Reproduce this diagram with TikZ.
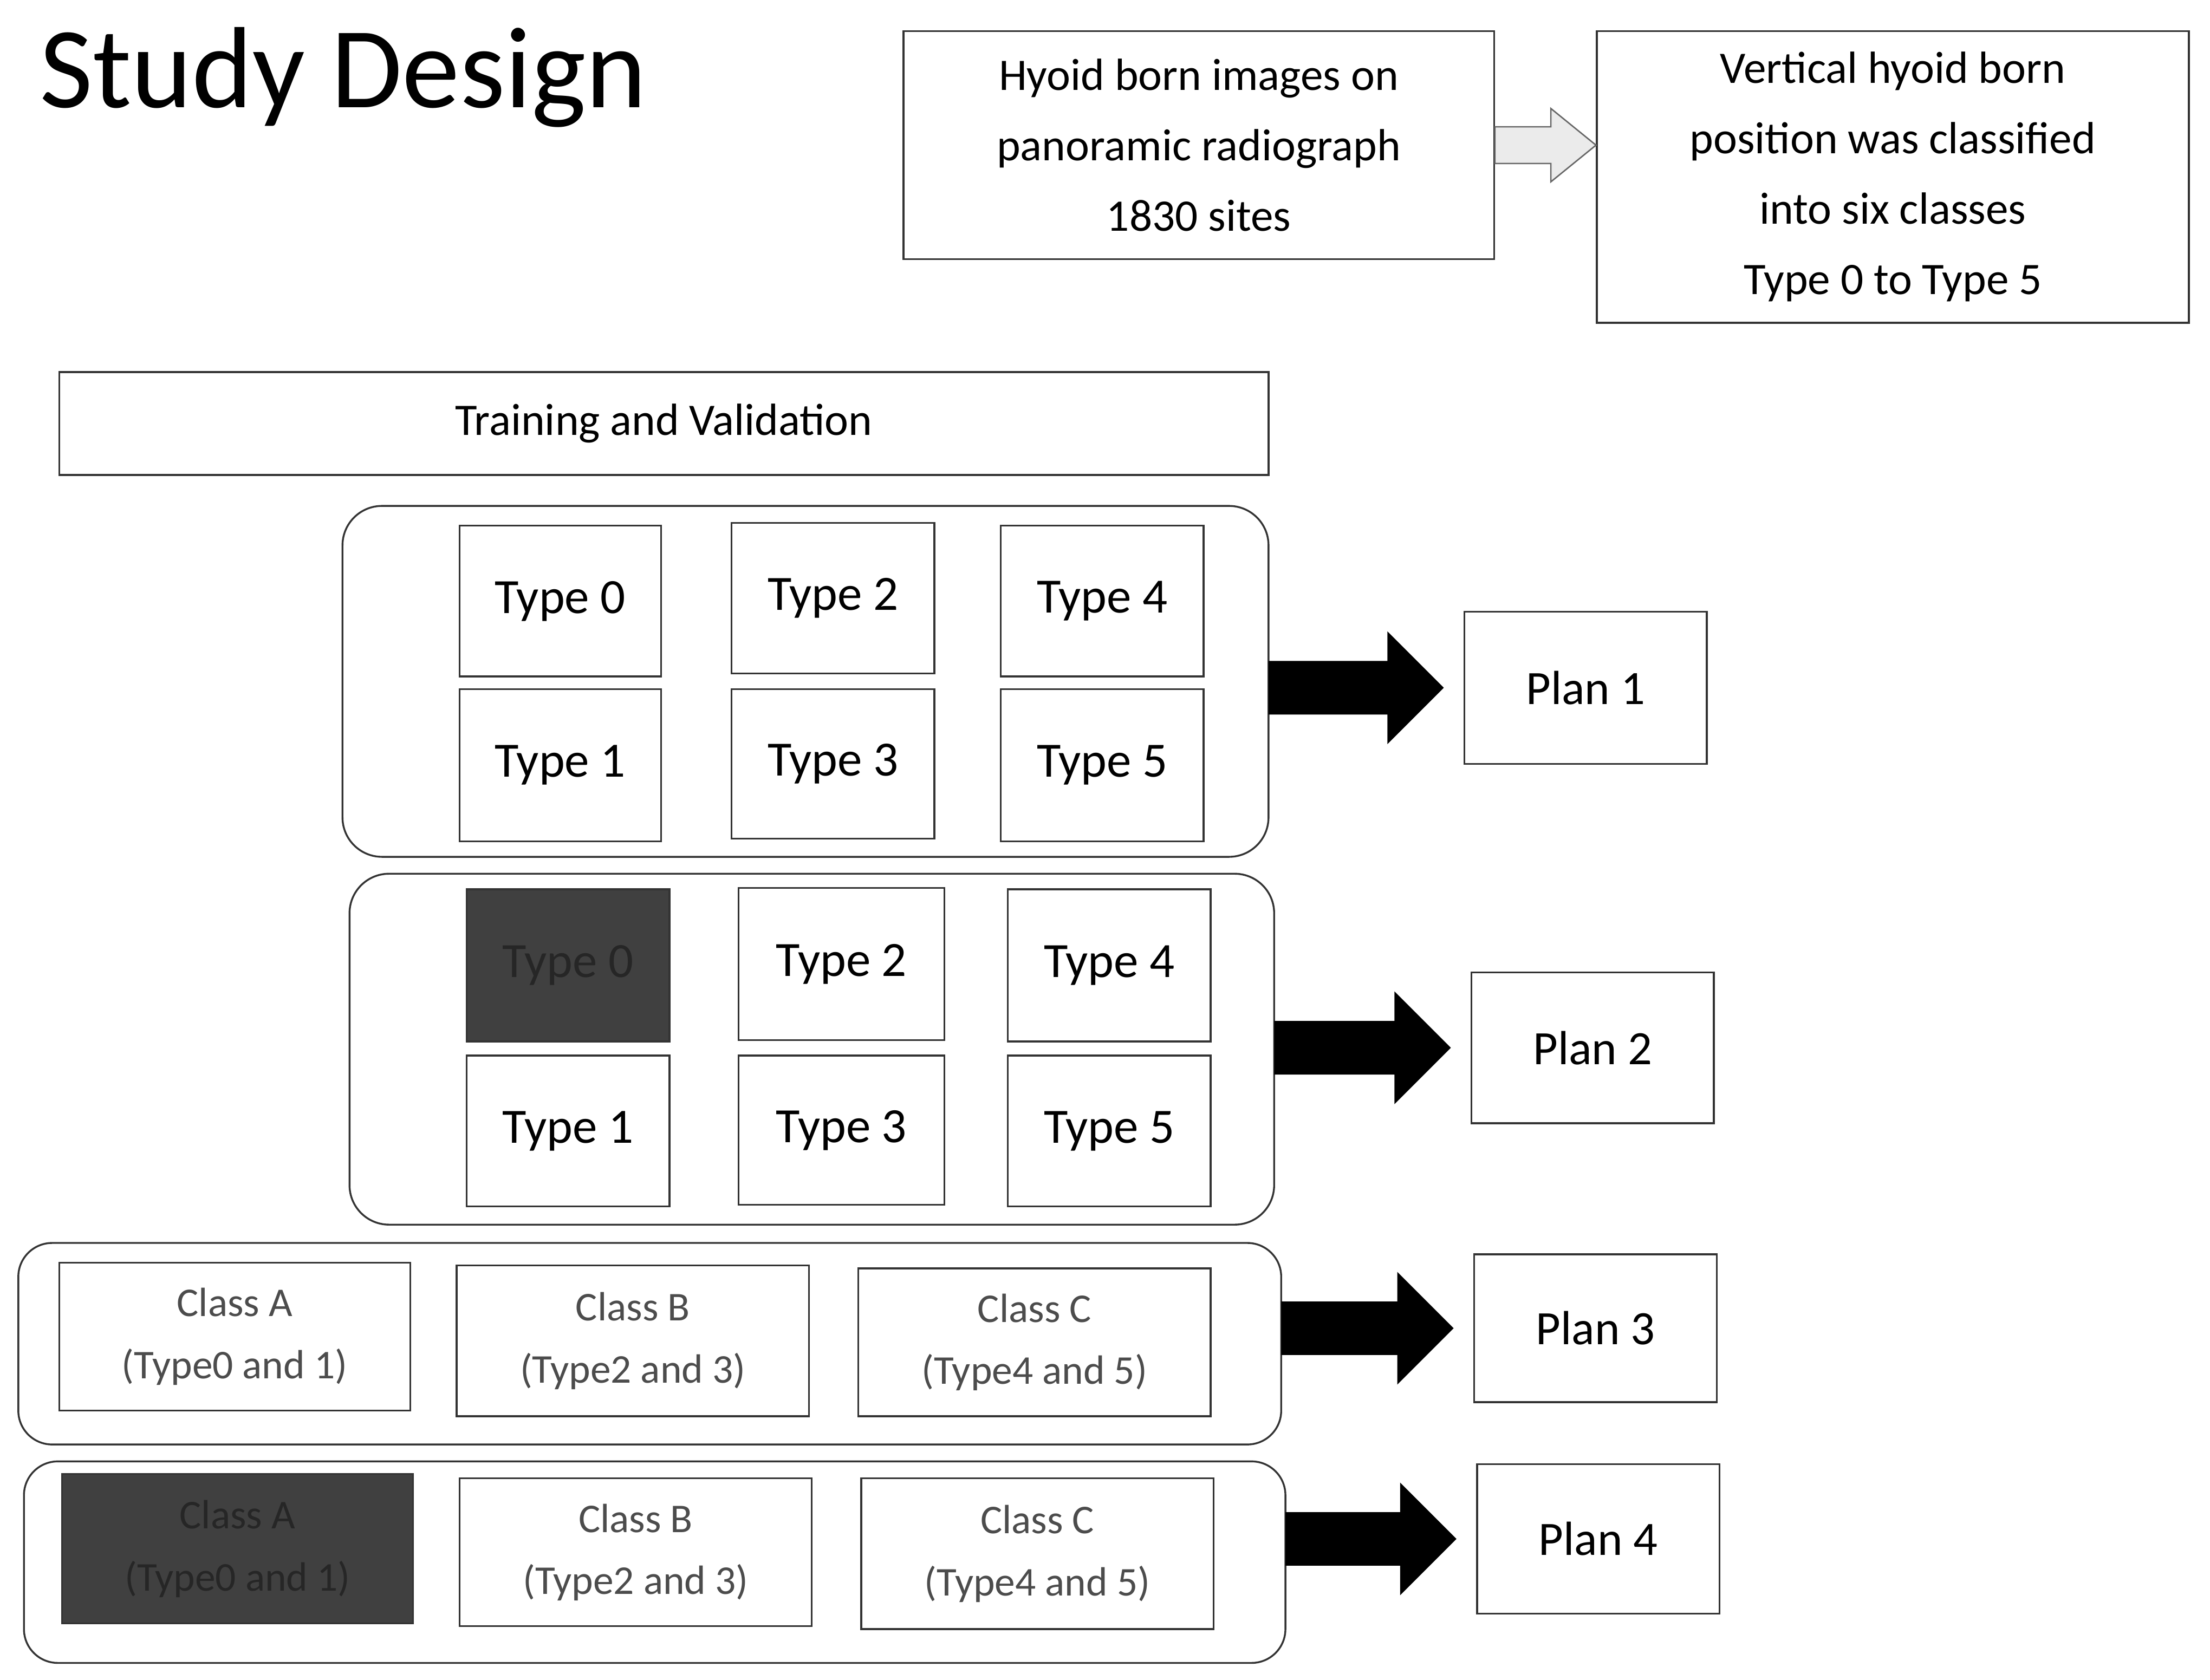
\documentclass[tikz,border=0pt]{standalone}
\usepackage{fontspec}
\setmainfont{Carlito}
\usetikzlibrary{calc}
\begin{document}
\begin{tikzpicture}[x=1pt,y=-1pt,
 box/.style={draw=black!80,line width=1.3pt,fill=white,align=center,inner sep=0pt},
 cell/.style={box,font=\fontsize{35}{40}\selectfont},
 dark/.style={fill=black!75,text=black!85},
 cls/.style={box,text=black!70,font=\fontsize{29}{44}\selectfont},
 grp/.style={draw=black!80,line width=1.3pt,rounded corners=28pt},
 plan/.style={box,font=\fontsize{34}{40}\selectfont}]
\useasboundingbox (0,0) rectangle (1568,1192);
\newcommand\fatarrow[2]{\path let \p1=#1, \p2=#2 in
 [fill=black] (\x1,\y2+19) -- (\x2-40,\y2+19) -- (\x2-40,\y2+40) -- (\x2,\y2) -- (\x2-40,\y2-40) -- (\x2-40,\y2-19) -- (\x1,\y2-19) -- cycle;}
\node[anchor=west,font=\fontsize{82}{90}\selectfont,inner sep=0pt] (title) at (28,55) {Study Design};
\node[box,minimum width=419,minimum height=162,font=\fontsize{32}{50}\selectfont] (hy) at (850.5,103) {Hyoid born images on\\panoramic radiograph\\1830 sites};
\node[box,minimum width=420,minimum height=207,font=\fontsize{32}{50}\selectfont] (vt) at (1343,125.5) {Vertical hyoid born\\position was classified\\into six classes\\Type 0 to Type 5};
\path let \p1=(hy.east), \p2=(vt.west) in
 [fill=black!8,draw=black!60,line width=1pt] (\x1,\y1+13) -- (\x2-32,\y1+13) -- (\x2-32,\y1+26) -- (\x2,\y1) -- (\x2-32,\y1-26) -- (\x2-32,\y1-13) -- (\x1,\y1-13) -- cycle;
\node[box,minimum width=858,minimum height=73,font=\fontsize{32}{40}\selectfont] (tv) at (471,300.5) {Training and Validation};
% group 1
\draw[grp] (243,359) rectangle (900,608);
\coordinate (g1) at (900,486);
\node[cell,minimum width=143,minimum height=107] (a0) at (397.5,426.5) {Type 0};
\node[cell,minimum width=143,minimum height=108] (a1) at (397.5,543) {Type 1};
\node[cell,minimum width=144,minimum height=107] (a2) at (591,424.5) {Type 2};
\node[cell,minimum width=144,minimum height=106] (a3) at (591,542) {Type 3};
\node[cell,minimum width=144,minimum height=107] (a4) at (782,426.5) {Type 4};
\node[cell,minimum width=144,minimum height=108] (a5) at (782,543) {Type 5};
\node[plan,minimum width=172,minimum height=108] (p1) at (1125,488) {Plan 1};
\fatarrow{(g1)}{($(p1.west)+(-14,0)$)}
% group 2
\draw[grp] (248,620) rectangle (904,869);
\coordinate (g2) at (904,742);
\node[cell,dark,minimum width=144,minimum height=108] (b0) at (403,685) {Type 0};
\node[cell,minimum width=144,minimum height=107] (b1) at (403,802.5) {Type 1};
\node[cell,minimum width=146,minimum height=108] (b2) at (597,684) {Type 2};
\node[cell,minimum width=146,minimum height=106] (b3) at (597,802) {Type 3};
\node[cell,minimum width=144,minimum height=108] (b4) at (787,685) {Type 4};
\node[cell,minimum width=144,minimum height=107] (b5) at (787,802.5) {Type 5};
\node[plan,minimum width=172,minimum height=107] (p2) at (1130,743.5) {Plan 2};
\fatarrow{(g2)}{($(p2.west)+(-14,0)$)}
% group 3
\draw[grp,rounded corners=24pt] (13,882) rectangle (909,1025);
\coordinate (g3) at (909,943);
\node[cls,minimum width=249,minimum height=105] (c1) at (166.5,948.5) {Class A\\(Type0 and 1)};
\node[cls,minimum width=250,minimum height=107] (c2) at (449,951.5) {Class B\\(Type2 and 3)};
\node[cls,minimum width=250,minimum height=105] (c3) at (734,952.5) {Class C\\(Type4 and 5)};
\node[plan,minimum width=172,minimum height=105] (p3) at (1132,942.5) {Plan 3};
\fatarrow{(g3)}{($(p3.west)+(-14,0)$)}
% group 4
\draw[grp,rounded corners=24pt] (17,1037) rectangle (912,1180);
\coordinate (g4) at (912,1097);
\node[cls,dark,text=black!85,minimum width=249,minimum height=106] (d1) at (168.5,1099) {Class A\\(Type0 and 1)};
\node[cls,minimum width=250,minimum height=105] (d2) at (451,1101.5) {Class B\\(Type2 and 3)};
\node[cls,minimum width=250,minimum height=107] (d3) at (736,1102.5) {Class C\\(Type4 and 5)};
\node[plan,minimum width=172,minimum height=106] (p4) at (1134,1092) {Plan 4};
\fatarrow{(g4)}{($(p4.west)+(-14,0)$)}
\end{tikzpicture}
\end{document}
